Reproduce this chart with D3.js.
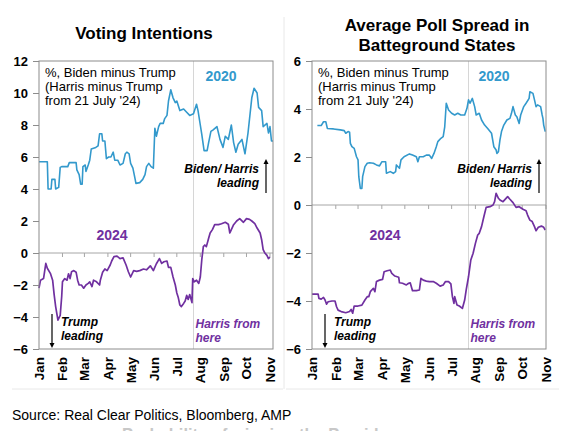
<!DOCTYPE html>
<html>
<head>
<meta charset="utf-8">
<script src="https://cdn.jsdelivr.net/npm/d3@7"></script>
<style>
  body { margin: 0; background: #fff; }
  svg { display: block; font-family: "Liberation Sans", Arial, sans-serif; }
</style>
</head>
<body>
<svg id="chart" width="571" height="431"></svg>
<script>
// days after 1 Jan (2024 calendar), value = spread in % points
const months = ["Jan","Feb","Mar","Apr","May","Jun","Jul","Aug","Sep","Oct","Nov"];
const harrisDay = 204;

const vote2020 = [[0,5.7],[11,5.7],[12,4.0],[16,4.0],[17,4.6],[21,4.6],[22,4.0],[26,4.1],[28,5.35],[30,5.4],
  [38,5.4],[40,5.65],[49,5.65],[50,5.2],[53,4.9],[55,4.3],[57,4.3],[58,5.4],[61,5.5],[62,5.1],
  [65,5.5],[67,5.8],[69,6.5],[75,6.6],[78,6.7],[80,7.45],[83,7.45],[84,7.0],[87,7.0],[89,5.9],
  [92,6.0],[95,6.0],[98,6.3],[100,5.8],[104,5.8],[107,5.5],[111,5.6],[114,6.2],[116,6.3],[119,6.2],
  [121,5.6],[124,5.3],[127,4.6],[128,4.35],[133,4.4],[137,4.6],[140,4.9],[142,5.4],[145,5.6],[148,5.4],
  [151,5.3],[153,7.8],[155,7.3],[158,7.9],[160,8.1],[164,8.1],[166,8.4],[169,8.6],[171,9.5],[174,10.2],
  [177,9.7],[180,9.4],[182,9.5],[186,8.9],[191,9.0],[195,8.8],[199,8.6],[204,8.7],[208,9.3],[210,8.9],
  [213,8.0],[215,7.4],[218,6.4],[222,6.4],[224,6.9],[227,7.6],[230,7.7],[235,7.9],[237,7.5],[239,7.1],
  [243,6.6],[246,7.3],[250,7.1],[254,8.0],[257,6.9],[260,6.3],[263,6.8],[268,7.1],[272,6.2],[276,7.5],
  [281,9.7],[284,10.3],[288,10.0],[290,9.1],[294,8.9],[296,7.9],[301,8.1],[303,7.5],[305,7.9],[307,7.0],[309,7.0]];

const vote2024 = [[0,-2.2],[2,-1.7],[6,-1.6],[9,-0.65],[11,-0.95],[15,-1.27],[18,-1.7],[20,-2.6],[22,-3.35],[25,-4.2],
  [28,-3.9],[30,-2.7],[31,-1.8],[34,-1.6],[37,-1.7],[39,-1.3],[41,-1.6],[43,-1.17],[46,-1.1],[49,-1.2],
  [51,-1.7],[53,-2.0],[56,-2.0],[59,-2.2],[62,-2.0],[65,-1.9],[67,-1.8],[70,-2.1],[72,-1.7],[76,-1.8],
  [80,-2.0],[81,-1.7],[84,-1.2],[87,-1.0],[90,-1.1],[94,-0.75],[96,-0.5],[99,-0.23],[103,-0.2],[107,-0.35],
  [111,-0.3],[115,-0.75],[118,-1.17],[121,-1.5],[125,-1.1],[129,-1.15],[133,-1.1],[138,-1.0],[142,-1.05],[147,-0.8],
  [151,-1.1],[155,-0.67],[159,-0.35],[162,-0.65],[165,-0.55],[169,-0.5],[171,-0.9],[174,-0.9],[177,-1.5],[180,-2.0],
  [182,-2.5],[184,-2.8],[186,-3.25],[188,-3.35],[191,-3.15],[193,-3.0],[195,-2.65],[197,-2.9],[199,-2.6],[202,-3.1],
  [203,-1.6],[205,-1.8],[208,-1.7],[211,-1.9],[213,-1.5],[215,-0.4],[217,0.4],[219,0.5],[221,0.4],[224,0.92],
  [226,1.25],[229,1.46],[232,1.77],[237,1.77],[241,1.83],[246,1.92],[250,1.8],[252,1.25],[254,1.46],[257,1.77],
  [261,2.0],[265,2.15],[270,1.92],[274,2.15],[278,2.1],[281,2.0],[285,1.83],[288,1.56],[292,1.25],[294,0.83],
  [296,0.21],[298,0.02],[301,-0.15],[303,-0.35],[305,-0.25]];

const swing2020 = [[7,3.31],[12,3.31],[15,3.47],[18,3.47],[20,3.19],[28,3.17],[37,3.13],[42,3.1],[44,2.99],[47,3.06],
  [49,3.03],[50,2.57],[52,2.43],[55,2.36],[58,2.01],[60,1.88],[61,1.18],[63,0.69],[65,0.69],[66,1.18],
  [69,1.6],[72,1.74],[75,1.76],[80,1.74],[84,1.67],[88,1.63],[91,1.8],[96,1.8],[97,1.32],[102,1.39],
  [106,1.32],[109,1.39],[110,1.67],[114,1.53],[116,1.88],[120,2.01],[127,2.13],[131,2.08],[136,2.01],[138,1.8],
  [140,2.01],[145,2.01],[149,2.08],[153,2.08],[156,1.94],[159,2.15],[162,2.43],[164,2.64],[168,2.78],[171,2.85],
  [173,3.26],[175,4.24],[178,3.96],[182,3.82],[186,3.75],[190,3.82],[194,3.75],[199,3.75],[202,4.03],[204,4.38],
  [206,4.24],[209,4.44],[212,4.1],[214,3.75],[218,3.82],[221,3.54],[225,3.33],[229,3.19],[234,2.99],[237,2.43],
  [240,2.29],[241,2.15],[243,2.22],[245,2.71],[247,3.06],[250,3.33],[254,3.54],[258,3.61],[260,3.82],[262,4.1],
  [265,3.75],[267,3.68],[270,3.4],[272,3.75],[276,4.1],[279,4.24],[283,4.44],[284,4.72],[288,4.65],[290,4.38],
  [292,4.1],[294,4.17],[298,4.1],[300,3.75],[301,3.61],[302,3.33],[304,3.06]];

const swing2024 = [[0,-3.71],[8,-3.71],[9,-3.89],[12,-3.92],[15,-3.85],[17,-3.96],[19,-4.13],[21,-4.03],[26,-4.0],[30,-4.0],
  [32,-4.24],[34,-4.38],[38,-4.44],[44,-4.49],[49,-4.44],[51,-4.35],[53,-4.51],[55,-4.21],[60,-4.21],[65,-4.17],
  [69,-3.96],[72,-3.82],[74,-3.82],[76,-3.61],[80,-3.47],[82,-3.61],[84,-3.19],[88,-3.13],[92,-3.1],[94,-2.78],
  [98,-2.74],[102,-2.71],[104,-2.85],[108,-2.96],[113,-3.01],[114,-3.24],[118,-3.26],[123,-3.33],[126,-3.26],[128,-3.24],
  [131,-3.57],[136,-3.57],[140,-3.54],[142,-3.06],[145,-3.13],[149,-3.17],[153,-3.19],[158,-3.19],[162,-3.26],[167,-3.38],
  [171,-3.33],[174,-3.19],[178,-3.19],[181,-3.29],[183,-3.82],[185,-4.1],[186,-3.82],[189,-4.17],[192,-4.21],[196,-4.31],
  [199,-3.96],[201,-3.54],[204,-2.99],[207,-2.29],[210,-2.01],[213,-1.6],[216,-1.25],[218,-1.18],[221,-0.9],[224,-0.49],
  [227,-0.1],[232,-0.07],[236,0.0],[238,0.14],[240,0.49],[243,0.28],[245,0.21],[249,0.14],[255,0.35],[258,0.24],
  [262,0.1],[266,-0.1],[270,-0.07],[275,-0.18],[279,-0.24],[281,-0.42],[284,-0.63],[287,-0.69],[290,-0.9],[292,-1.07],
  [295,-0.93],[299,-0.88],[302,-0.93],[304,-1.04]];

const voteTicks = [-6,-4,-2,0,2,4,6,8,10,12];
const swingTicks = [-6,-4,-2,0,2,4,6];

const svg = d3.select("#chart");
const jan1 = new Date(2024, 0, 1);
const day = d => d3.timeDay.offset(jan1, d);
const BLUE = "#3399cc", PURPLE = "#7030a0";
const plotTop = 61, plotBottom = 349;

// faint panel frames
svg.append("line").attr("x1", 284).attr("x2", 284).attr("y1", 17).attr("y2", 389).attr("stroke", "#e8e8e8");
svg.append("line").attr("x1", 12).attr("x2", 283).attr("y1", 389).attr("y2", 389).attr("stroke", "#e8e8e8");
svg.append("line").attr("x1", 286).attr("x2", 559).attr("y1", 389).attr("y2", 389).attr("stroke", "#e8e8e8");

function arrow(g, x, y1, y2) {
  const dir = y2 < y1 ? 1 : -1;
  g.append("line").attr("x1", x).attr("x2", x).attr("y1", y1).attr("y2", y2 + dir * 4)
    .attr("stroke", "#000").attr("stroke-width", 1.2);
  g.append("path").attr("d", `M${x - 2.5},${y2 + dir * 5}L${x},${y2}L${x + 2.5},${y2 + dir * 5}Z`).attr("fill", "#000");
}

function panel(p) {
  const g = svg.append("g");
  const x = d3.scaleTime().domain([jan1, day(p.lastDay)]).range([p.x0, p.x1]);
  const y = d3.scaleLinear().domain(p.yDomain).range([plotBottom, plotTop]);

  const t = g.append("text").attr("text-anchor", "middle").attr("font-weight", "bold").attr("font-size", 17);
  p.title.forEach((s, i) => t.append("tspan").attr("x", p.titleX).attr("y", p.titleY + i * 20).text(s));

  const hx = x(day(harrisDay));
  g.append("line").attr("x1", hx).attr("x2", hx).attr("y1", plotTop).attr("y2", plotBottom)
    .attr("stroke", "#d6d6d6").attr("stroke-width", 1);

  g.append("line").attr("x1", p.x0).attr("x2", p.x1).attr("y1", y(0)).attr("y2", y(0))
    .attr("stroke", "#a6a6a6").attr("stroke-width", 1);
  g.selectAll(".mtick").data(months.slice(1)).join("line")
    .attr("x1", (m, i) => x(new Date(2024, i + 1, 1))).attr("x2", (m, i) => x(new Date(2024, i + 1, 1)))
    .attr("y1", y(0)).attr("y2", y(0) + 4).attr("stroke", "#a6a6a6");

  const line = d3.line().x(d => x(day(d[0]))).y(d => y(d[1]));
  g.append("path").datum(p.s2020).attr("d", line).attr("fill", "none")
    .attr("stroke", BLUE).attr("stroke-width", 1.6).attr("stroke-linejoin", "round");
  g.append("path").datum(p.s2024).attr("d", line).attr("fill", "none")
    .attr("stroke", PURPLE).attr("stroke-width", 1.7).attr("stroke-linejoin", "round");

  g.append("rect").attr("x", p.x0).attr("y", plotTop).attr("width", p.x1 - p.x0).attr("height", plotBottom - plotTop)
    .attr("fill", "none").attr("stroke", "#8c8c8c");

  const ax = g.append("g").attr("transform", `translate(${p.x0},0)`)
    .call(d3.axisLeft(y).tickValues(p.ticks).tickSize(6).tickPadding(5));
  ax.select(".domain").remove();
  ax.selectAll("line").attr("stroke", "#8c8c8c");
  ax.selectAll("text").attr("fill", "#000")
    .style("font-family", '"Liberation Sans", Arial, sans-serif').style("font-size", "13px").style("font-weight", "bold");

  g.selectAll(".mlab").data(months).join("text")
    .attr("transform", (m, i) => `translate(${x(new Date(2024, i, 1)) + 5},357) rotate(-90)`)
    .attr("text-anchor", "end").attr("font-weight", "bold").attr("font-size", 13.5).text(m => m);

  const note = g.append("text").attr("font-size", 13);
  ["%, Biden minus Trump", "(Harris minus Trump", "from 21 July '24)"].forEach((s, i) =>
    note.append("tspan").attr("x", p.x0 + 6).attr("y", 77 + i * 14).text(s));

  g.append("text").attr("x", p.x1 - 52).attr("y", 81).attr("text-anchor", "middle")
    .attr("font-weight", "bold").attr("font-size", 14).attr("fill", BLUE).text("2020");
  g.append("text").attr("x", p.x0 + 73).attr("y", 240).attr("text-anchor", "middle")
    .attr("font-weight", "bold").attr("font-size", 14).attr("fill", PURPLE).text("2024");

  const lead = g.append("text").attr("text-anchor", "end").attr("font-weight", "bold")
    .attr("font-style", "italic").attr("font-size", 12);
  ["Biden/ Harris", "leading"].forEach((s, i) =>
    lead.append("tspan").attr("x", p.x1 - 14).attr("y", 173 + i * 14).text(s));
  arrow(g, p.x1 - 7, 193, 159);

  const trump = g.append("text").attr("font-weight", "bold").attr("font-style", "italic").attr("font-size", 12);
  ["Trump", "leading"].forEach((s, i) =>
    trump.append("tspan").attr("x", p.x0 + 22).attr("y", 326 + i * 14).text(s));
  arrow(g, p.x0 + 13, 314, 348);

  const harris = g.append("text").attr("font-weight", "bold").attr("font-style", "italic")
    .attr("font-size", 12).attr("fill", PURPLE);
  ["Harris from", "here"].forEach((s, i) =>
    harris.append("tspan").attr("x", hx + 2).attr("y", 328 + i * 14).text(s));
}

panel({ x0: 39, x1: 273, lastDay: 309, yDomain: [-6, 12], ticks: voteTicks,
  title: ["Voting Intentions"], titleX: 144, titleY: 39, s2020: vote2020, s2024: vote2024 });
panel({ x0: 312, x1: 546, lastDay: 305, yDomain: [-6, 6], ticks: swingTicks,
  title: ["Average Poll Spread in", "Batteground States"], titleX: 437, titleY: 31, s2020: swing2020, s2024: swing2024 });

svg.append("text").attr("x", 12).attr("y", 420).attr("font-size", 14).text("Source: Real Clear Politics, Bloomberg, AMP");
svg.append("text").attr("x", 122).attr("y", 440).attr("font-size", 16.5).attr("font-weight", "bold")
  .attr("fill", "#c8c8c8").text("Probability of winning the Presidency");
</script>
</body>
</html>
